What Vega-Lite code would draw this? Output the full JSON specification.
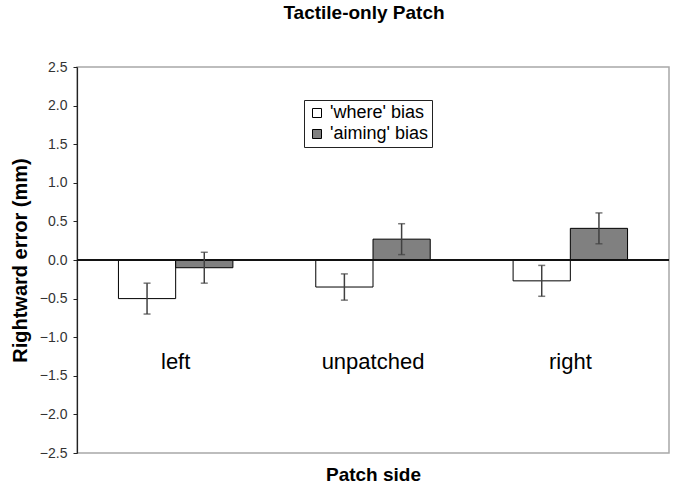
{
  "$schema": "https://vega.github.io/schema/vega-lite/v6.json",
  "width": 592,
  "height": 386,
  "autosize": {"type": "none"},
  "padding": {"left": 77, "top": 67, "right": 10, "bottom": 37},
  "background": "white",
  "config": {
    "font": "Liberation Sans",
    "view": {"stroke": "#a8a8a8", "strokeWidth": 1.5},
    "axis": {"grid": false, "labelOverlap": false, "labelSeparation": 0}
  },
  "title": {
    "text": "Tactile-only Patch",
    "fontSize": 19,
    "fontWeight": "bold",
    "color": "black",
    "offset": 37,
    "dx": -9
  },
  "data": {
    "values": [
      {"side": "left", "type": "'where' bias", "value": -0.5, "lo": -0.7, "hi": -0.3},
      {"side": "left", "type": "'aiming' bias", "value": -0.1, "lo": -0.3, "hi": 0.1},
      {"side": "unpatched", "type": "'where' bias", "value": -0.35, "lo": -0.52, "hi": -0.18},
      {"side": "unpatched", "type": "'aiming' bias", "value": 0.27, "lo": 0.07, "hi": 0.47},
      {"side": "right", "type": "'where' bias", "value": -0.27, "lo": -0.47, "hi": -0.07},
      {"side": "right", "type": "'aiming' bias", "value": 0.41, "lo": 0.21, "hi": 0.61}
    ]
  },
  "encoding": {
    "x": {
      "field": "side",
      "type": "nominal",
      "sort": ["left", "unpatched", "right"],
      "scale": {"paddingInner": 0.42, "paddingOuter": 0.21},
      "axis": {
        "title": "Patch side",
        "titleFontSize": 19,
        "titleFontWeight": "bold",
        "titleColor": "black",
        "titlePadding": 12,
        "labels": false,
        "ticks": false,
        "domain": false
      }
    },
    "xOffset": {
      "field": "type",
      "type": "nominal",
      "sort": ["'where' bias", "'aiming' bias"],
      "scale": {"paddingInner": 0, "paddingOuter": 0}
    }
  },
  "layer": [
    {
      "mark": {"type": "bar", "stroke": "black", "strokeWidth": 1},
      "encoding": {
        "y": {
          "field": "value",
          "type": "quantitative",
          "scale": {"domain": [-2.5, 2.5], "nice": false, "zero": false},
          "axis": {
            "title": "Rightward error (mm)",
            "titleFontSize": 20,
            "titleFontWeight": "bold",
            "titleColor": "black",
            "titlePadding": 9,
            "tickCount": 10,
            "labelOverlap": false,
            "format": ".1f",
            "labelFontSize": 14,
            "labelColor": "#333",
            "domainColor": "#222",
            "domainWidth": 1.2,
            "tickColor": "#222",
            "tickSize": 4,
            "labelPadding": 6
          }
        },
        "fill": {
          "field": "type",
          "type": "nominal",
          "sort": ["'where' bias", "'aiming' bias"],
          "scale": {"range": ["#ffffff", "#808080"]},
          "legend": {
            "title": null,
            "orient": "none",
            "legendX": 227,
            "legendY": 33,
            "symbolType": "square",
            "symbolSize": 81,
            "symbolStrokeColor": "black",
            "symbolStrokeWidth": 1,
            "labelFontSize": 18,
            "labelColor": "black",
            "strokeColor": "#222",
            "fillColor": "white",
            "padding": 4,
            "rowPadding": 3,
            "labelOffset": 4
          }
        }
      }
    },
    {
      "mark": {"type": "rule", "color": "#111", "strokeWidth": 1},
      "encoding": {"y": {"datum": 0}, "x": null, "xOffset": null}
    },
    {
      "mark": {"type": "rule", "color": "#404040", "strokeWidth": 1.5},
      "encoding": {
        "y": {"field": "lo", "type": "quantitative"},
        "y2": {"field": "hi"}
      }
    },
    {
      "mark": {"type": "tick", "color": "#404040", "orient": "horizontal", "size": 7, "thickness": 1.5},
      "encoding": {"y": {"field": "lo", "type": "quantitative"}}
    },
    {
      "mark": {"type": "tick", "color": "#404040", "orient": "horizontal", "size": 7, "thickness": 1.5},
      "encoding": {"y": {"field": "hi", "type": "quantitative"}}
    },
    {
      "transform": [{"filter": "datum.type == \"'where' bias\""}],
      "mark": {"type": "text", "fontSize": 22, "color": "black", "baseline": "middle"},
      "encoding": {
        "xOffset": null,
        "y": {"datum": -1.32},
        "text": {"field": "side"}
      }
    }
  ]
}
